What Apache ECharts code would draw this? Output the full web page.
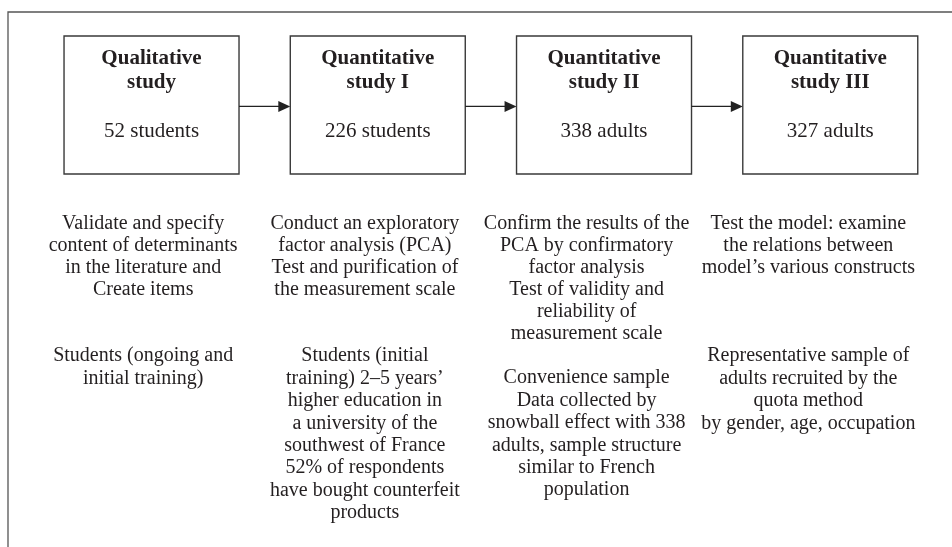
<!DOCTYPE html>
<html>
<head>
<meta charset="utf-8">
<title>Research design</title>
<script src="https://cdn.jsdelivr.net/npm/echarts@6/dist/echarts.min.js"></script>
<style>
  html, body { margin: 0; padding: 0; background: #fff; }
  #main { width: 952px; height: 547px; }
</style>
</head>
<body>
<div id="main"></div>
<script>
// stages of the research, left to right
var stageTitles = [
    ['Qualitative', 'study'],
    ['Quantitative', 'study I'],
    ['Quantitative', 'study II'],
    ['Quantitative', 'study III']
];
var sampleSizes = [52, 226, 338, 327];
var sampleUnits = ['students', 'students', 'adults', 'adults'];

// what each study is for
var objectives = [
    ['Validate and specify', 'content of determinants', 'in the literature and', 'Create items'],
    ['Conduct an exploratory', 'factor analysis (PCA)', 'Test and purification of', 'the measurement scale'],
    ['Confirm the results of the', 'PCA by confirmatory', 'factor analysis', 'Test of validity and', 'reliability of', 'measurement scale'],
    ['Test the model: examine', 'the relations between', 'model\u2019s various constructs']
];

// who was asked
var samples = [
    ['Students (ongoing and', 'initial training)'],
    ['Students (initial', 'training) 2\u20135 years\u2019', 'higher education in', 'a university of the', 'southwest of France', '52% of respondents', 'have bought counterfeit', 'products'],
    ['Convenience sample', 'Data collected by', 'snowball effect with 338', 'adults, sample structure', 'similar to French', 'population'],
    ['Representative sample of', 'adults recruited by the', 'quota method', 'by gender, age, occupation']
];

var FONT = '"Liberation Serif", "Times New Roman", serif';
var INK = '#231f20';
var LINE = 22;
var HALF_W = 0.3867;   // half box width, in axis units

var chart = echarts.init(document.getElementById('main'));

function renderStage(params, api) {
    var i = api.value(0);
    var topLeft = api.coord([i - HALF_W, 1]);
    var botRight = api.coord([i + HALF_W, 0]);
    var cx = api.coord([i, 0])[0];
    var yTop = topLeft[1], yBot = botRight[1];
    var children = [];

    children.push({
        type: 'rect',
        shape: { x: topLeft[0], y: yTop, width: botRight[0] - topLeft[0], height: yBot - yTop },
        style: { fill: '#fff', stroke: '#3a3a3a', lineWidth: 1.4 }
    });
    children.push({
        type: 'text',
        style: {
            text: stageTitles[i].join('\n'), x: cx, y: yTop + 35,
            align: 'center', verticalAlign: 'middle', lineHeight: 24,
            fontFamily: FONT, fontSize: 21, fontWeight: 'bold', fill: INK
        }
    });
    children.push({
        type: 'text',
        style: {
            text: sampleSizes[i] + ' ' + sampleUnits[i], x: cx, y: yTop + 95.5,
            align: 'center', verticalAlign: 'middle',
            fontFamily: FONT, fontSize: 21, fill: INK
        }
    });

    // arrow to the next box
    if (i < stageTitles.length - 1) {
        var from = api.coord([i + HALF_W, 0.49]);
        var to = api.coord([i + 1 - HALF_W, 0.49]);
        children.push({
            type: 'line',
            shape: { x1: from[0], y1: from[1], x2: to[0] - 11, y2: to[1] },
            style: { stroke: '#222', lineWidth: 1.4 }
        });
        children.push({
            type: 'polygon',
            shape: { points: [[to[0] - 12, to[1] - 5.5], [to[0], to[1]], [to[0] - 12, to[1] + 5.5]] },
            style: { fill: '#222' }
        });
    }

    // text under the box
    var tx = api.coord([0.98 * i - 0.037, 0])[0];
    var firstTop = yBot + 39;
    children.push({
        type: 'text',
        style: {
            text: objectives[i].join('\n'), x: tx, y: firstTop,
            align: 'center', verticalAlign: 'top', lineHeight: LINE,
            fontFamily: FONT, fontSize: 20, fill: INK
        }
    });
    var skip = Math.max(6, objectives[i].length + 1);
    children.push({
        type: 'text',
        style: {
            text: samples[i].join('\n'), x: tx, y: firstTop + skip * LINE,
            align: 'center', verticalAlign: 'top', lineHeight: LINE + 0.4,
            fontFamily: FONT, fontSize: 20, fill: INK
        }
    });

    return { type: 'group', children: children };
}

var option = {
    backgroundColor: '#fff',
    animation: false,
    grid: { left: 38.4, right: 8.6, top: 36, bottom: 373 },
    xAxis: { type: 'value', min: -0.5, max: 3.5, show: false },
    yAxis: { type: 'value', min: 0, max: 1, show: false },
    graphic: [{
        type: 'polyline',
        shape: { points: [[8, 547], [8, 12], [952, 12]] },
        style: { stroke: '#555', lineWidth: 1.3, fill: null }
    }],
    series: [{
        type: 'custom',
        renderItem: renderStage,
        clip: false,
        data: stageTitles.map(function (t, i) { return [i]; })
    }]
};

chart.setOption(option);
</script>
</body>
</html>
